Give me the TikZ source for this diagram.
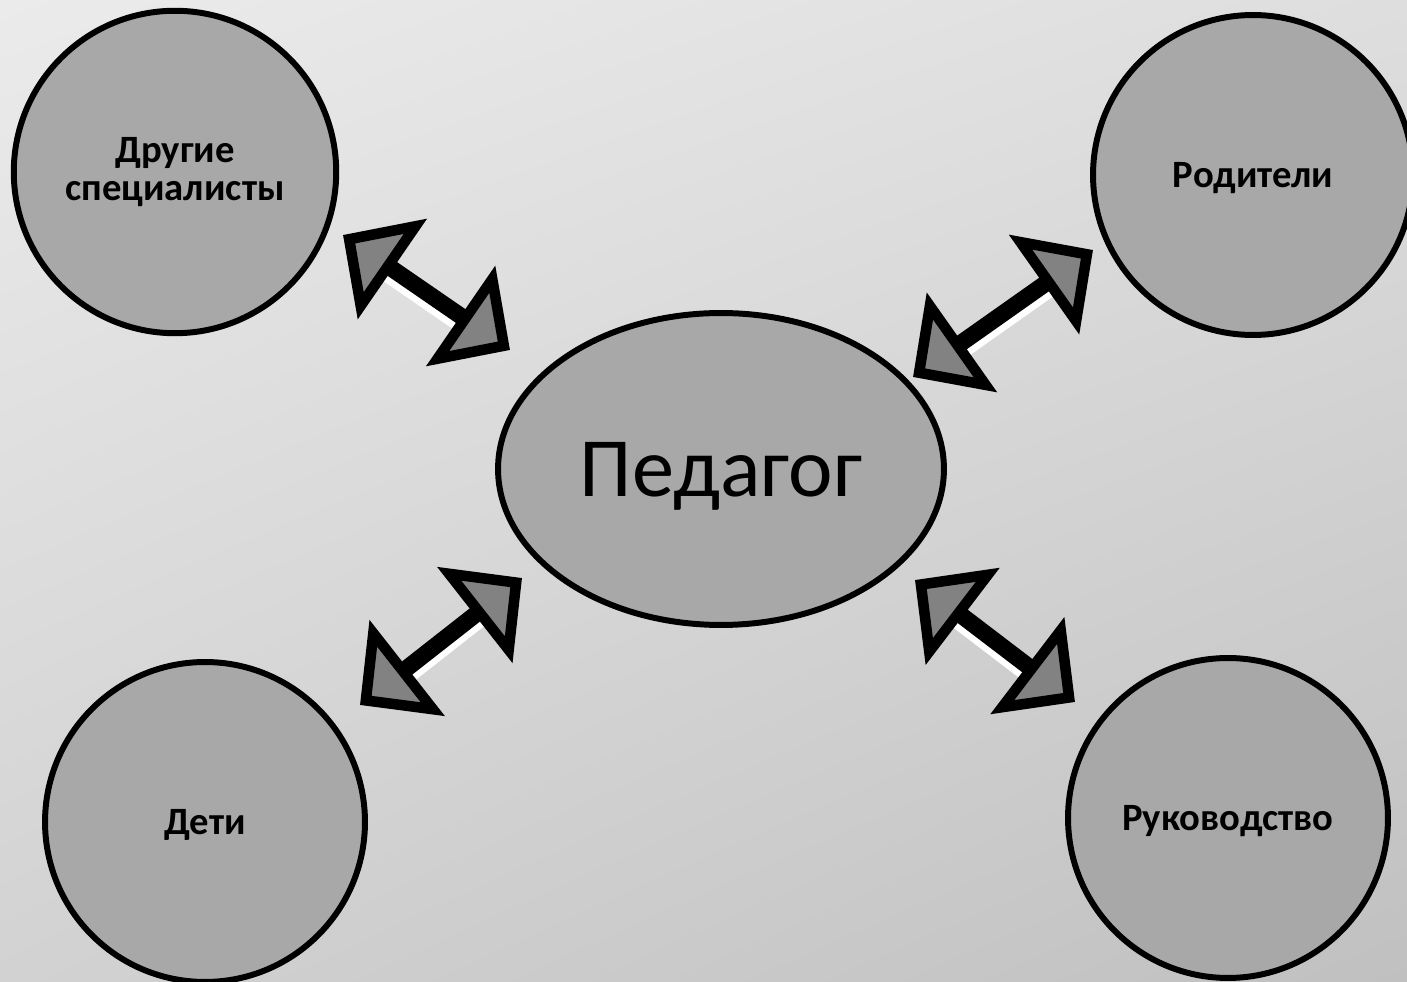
\documentclass[tikz,border=0pt]{standalone}
\usepackage{fontspec}
\setmainfont{Carlito}
\usetikzlibrary{arrows.meta,shapes.geometric,shadings}
\definecolor{bodygray}{HTML}{A8A8A8}
\definecolor{headgray}{HTML}{828282}
\definecolor{bgul}{HTML}{EBEBEB}
\definecolor{bgur}{HTML}{DEDEDE}
\definecolor{bgll}{HTML}{D2D2D2}
\definecolor{bglr}{HTML}{C0C0C0}
\tikzset{
  partner/.style={circle,draw=black,line width=3.4pt,fill=bodygray,minimum size=6.4cm,
    align=center,font=\bfseries\fontsize{22}{22}\selectfont},
  twoway/.style={line width=9.5pt,
    {Triangle[length=1.2cm,width=2.4cm,fill=headgray,line width=6pt]}-{Triangle[length=1.2cm,width=2.4cm,fill=headgray,line width=6pt]}},
  shine/.style={white,line width=4.5pt,transform canvas={yshift=-0.27cm},shorten <=1cm,shorten >=1cm}
}
\begin{document}
\begin{tikzpicture}[x=0.02cm,y=-0.02cm]
\shade[upper left=bgul,upper right=bgur,lower left=bgll,lower right=bglr] (0,0) rectangle (1407,982);
\useasboundingbox (0,0) rectangle (1407,982);
\node[ellipse,draw=black,line width=3.4pt,fill=bodygray,minimum width=8.92cm,minimum height=6.24cm,
  text depth=0pt,font=\fontsize{48}{56}\selectfont] (pedagog) at (721,469) {Педагог};
\node[partner,minimum size=6.45cm] (drugie) at (175,172) {Другие\\специалисты};
\node[partner,text depth=0pt] (roditeli) at (1253,175) {Родители};
\node[partner,text depth=0pt] (deti) at (205,822) {Дети};
\node[partner,text depth=0pt] (rukov) at (1228,818) {Руководство};
\foreach \n/\x/\y in {dr1/343/235,dr2/510/350,ro1/913/377,ro2/1093/250,de1/360/705,de2/522/578,ru1/915/580,ru2/1075/702}
  \coordinate (\n) at (\x,\y);
\foreach \a/\b in {dr1/dr2,ro1/ro2,de1/de2,ru1/ru2} {
  \draw[shine] (\a) -- (\b);
  \draw[twoway] (\a) -- (\b);
}
\end{tikzpicture}
\end{document}
